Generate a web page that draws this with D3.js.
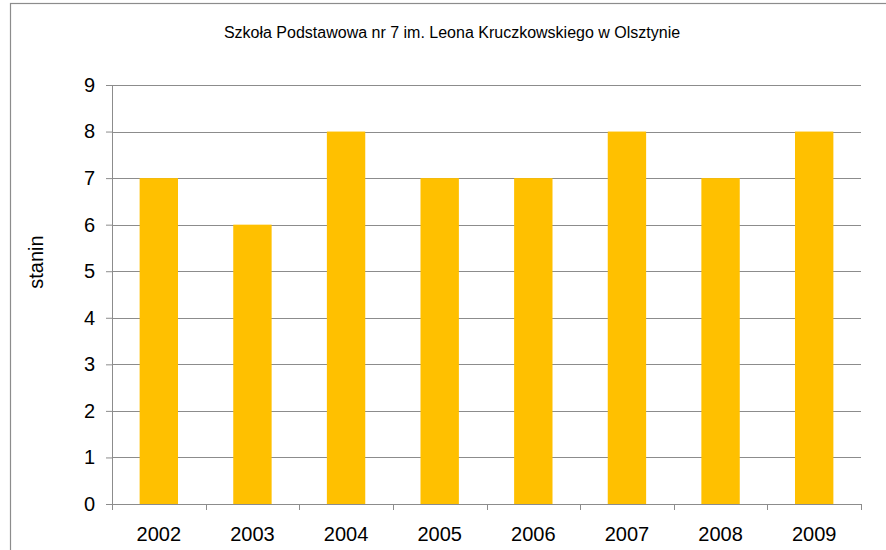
<!DOCTYPE html>
<html>
<head>
<meta charset="utf-8">
<script src="https://cdn.jsdelivr.net/npm/d3@7"></script>
<style>
  body { margin: 0; background: #fff; }
  svg { display: block; font-family: "Liberation Sans", Arial, sans-serif; }
</style>
</head>
<body>
<script>
// dane: wynik w staninach dla kolejnych lat
const lata = ["2002", "2003", "2004", "2005", "2006", "2007", "2008", "2009"]
const stanin = [7, 6, 8, 7, 7, 8, 7, 8]
const yTicks = [0, 1, 2, 3, 4, 5, 6, 7, 8, 9]
const tytul = "Szkoła Podstawowa nr 7 im. Leona Kruczkowskiego w Olsztynie"
const osY = "stanin"

const W = 886, H = 550
const margin = { top: 85, right: 25, bottom: 46, left: 112 }
const width = W - margin.left - margin.right
const height = H - margin.top - margin.bottom

const svg = d3.select("body").append("svg")
    .attr("width", W)
    .attr("height", H)

// ramka wykresu
svg.append("rect")
    .attr("x", 10.5).attr("y", 3.5)
    .attr("width", W).attr("height", H)
    .attr("fill", "none")
    .attr("stroke", "#8c8c8c")
    .attr("stroke-width", 1.2)

svg.append("text")
    .attr("x", 452).attr("y", 38)
    .attr("text-anchor", "middle")
    .attr("font-size", 16)
    .attr("fill", "#000")
    .text(tytul)

const g = svg.append("g")
    .attr("transform", "translate(" + margin.left + "," + margin.top + ")")

const x = d3.scaleBand()
    .domain(lata)
    .range([0, width])
    .paddingInner(0.59)
    .paddingOuter(0.295)

const y = d3.scaleLinear()
    .domain([0, 9])
    .range([height, 0])

// linie siatki
g.append("g")
    .selectAll("line")
    .data(yTicks.filter(d => d > 0))
    .join("line")
    .attr("x1", 0).attr("x2", width)
    .attr("y1", d => Math.round(y(d)) + 0.5)
    .attr("y2", d => Math.round(y(d)) + 0.5)
    .attr("stroke", "#8c8c8c")

// słupki
g.append("g")
    .selectAll("rect")
    .data(stanin)
    .join("rect")
    .attr("x", (d, i) => x(lata[i]))
    .attr("width", x.bandwidth())
    .attr("y", d => y(d))
    .attr("height", d => height - y(d))
    .attr("fill", "#ffc000")

// oś Y
const axisY = g.append("g")
    .call(d3.axisLeft(y).tickValues(yTicks).tickSize(6).tickPadding(11))
axisY.select(".domain").attr("stroke", "#8c8c8c")
axisY.selectAll(".tick line").attr("stroke", "#8c8c8c")
axisY.selectAll(".tick text").attr("font-size", 20).attr("fill", "#000")
    .attr("font-family", "Liberation Sans, Arial, sans-serif")

// oś X z kreskami na granicach kategorii
const granice = d3.range(lata.length + 1).map(i => i * width / lata.length)
const axisX = g.append("g")
    .attr("transform", "translate(0," + height + ")")
axisX.append("line")
    .attr("x1", 0).attr("x2", width)
    .attr("y1", 0.5).attr("y2", 0.5)
    .attr("stroke", "#8c8c8c")
axisX.selectAll(".granica")
    .data(granice)
    .join("line")
    .attr("class", "granica")
    .attr("x1", d => Math.round(d) + 0.5).attr("x2", d => Math.round(d) + 0.5)
    .attr("y1", 0).attr("y2", 6)
    .attr("stroke", "#8c8c8c")
axisX.selectAll("text")
    .data(lata)
    .join("text")
    .attr("x", d => x(d) + x.bandwidth() / 2)
    .attr("y", 37)
    .attr("text-anchor", "middle")
    .attr("font-size", 20)
    .attr("fill", "#000")
    .text(d => d)

// opis osi Y
svg.append("text")
    .attr("transform", "translate(43,262) rotate(-90)")
    .attr("text-anchor", "middle")
    .attr("font-size", 20)
    .attr("fill", "#000")
    .text(osY)
</script>
</body>
</html>
